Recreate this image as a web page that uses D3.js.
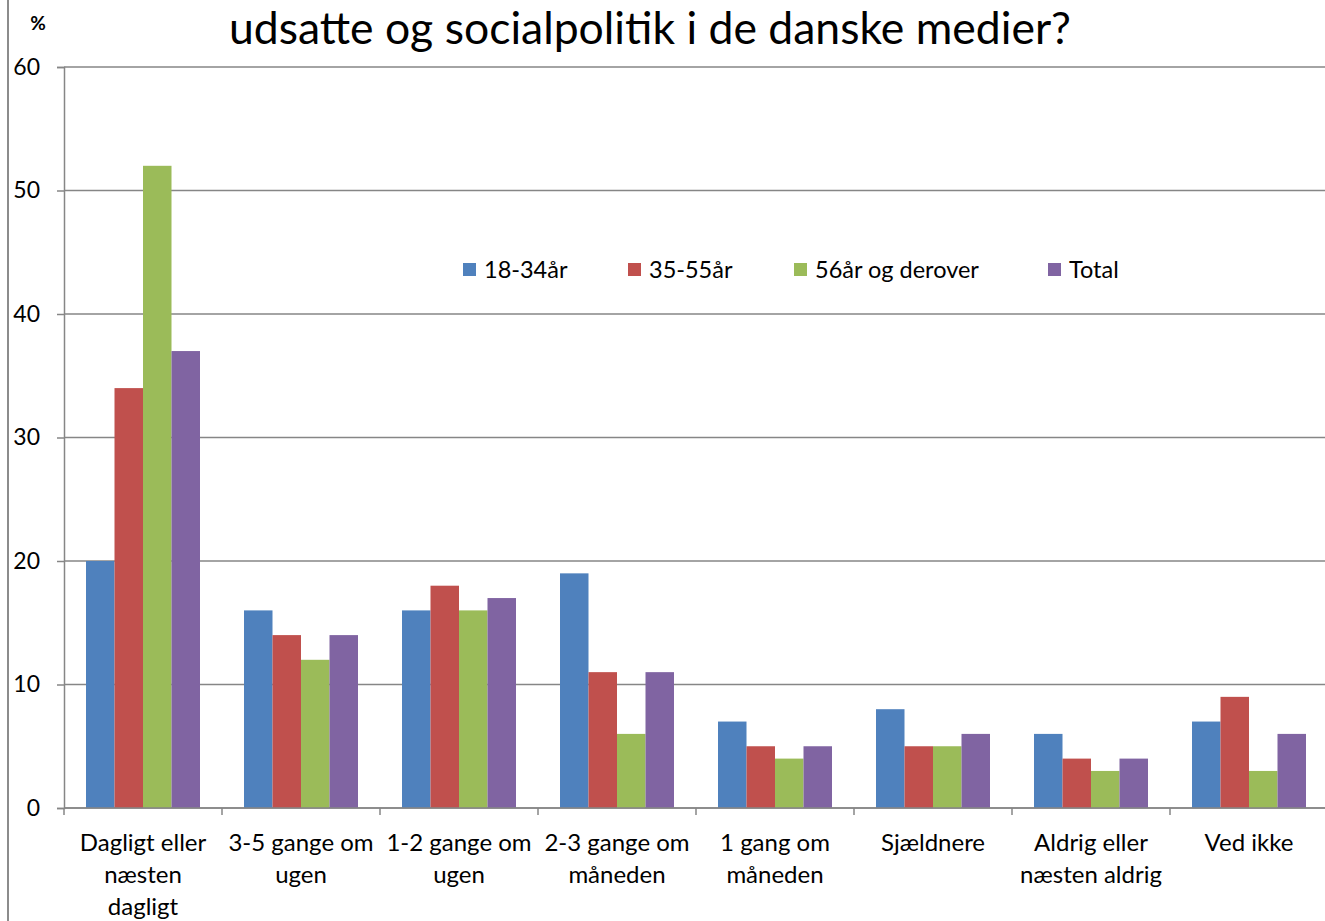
<!DOCTYPE html>
<html>
<head>
<meta charset="utf-8">
<script src="https://cdn.jsdelivr.net/npm/d3@7"></script>
<style>
  body { margin: 0; background: #fff; }
  text { font-family: Lato, "Open Sans", sans-serif; fill: #000; }
</style>
</head>
<body>
<div id="chart"></div>
<script>
var svgWidth = 1325;
var svgHeight = 921;

var margin = { top: 67, left: 64, bottom: 113 };

// categories and series
var categories = ["Dagligt eller næsten dagligt", "3-5 gange om ugen", "1-2 gange om ugen",
  "2-3 gange om måneden", "1 gang om måneden", "Sjældnere", "Aldrig eller næsten aldrig", "Ved ikke"];
var labelLines = [["Dagligt eller", "næsten", "dagligt"], ["3-5 gange om", "ugen"], ["1-2 gange om", "ugen"],
  ["2-3 gange om", "måneden"], ["1 gang om", "måneden"], ["Sjældnere"], ["Aldrig eller", "næsten aldrig"], ["Ved ikke"]];
var seriesNames = ["18-34år", "35-55år", "56år og derover", "Total"];
var age18_34 = [20, 16, 16, 19, 7, 8, 6, 7];
var age35_55 = [34, 14, 18, 11, 5, 5, 4, 9];
var age56 = [52, 12, 16, 6, 4, 5, 3, 3];
var total = [37, 14, 17, 11, 5, 6, 4, 6];
var yTicks = [0, 10, 20, 30, 40, 50, 60];
var colors = ["#4F81BD", "#C0504D", "#9BBB59", "#8064A2"];

var seriesValues = [age18_34, age35_55, age56, total];
var rows = categories.map(function(c, i) {
  return { cat: c, values: seriesValues.map(function(s, j) { return { name: seriesNames[j], value: s[i], idx: j }; }) };
});

var svg = d3.select("#chart").append("svg")
  .attr("width", svgWidth)
  .attr("height", svgHeight);

var bandW = 158;
var x0 = d3.scaleBand()
  .domain(categories)
  .range([margin.left, margin.left + bandW * categories.length]);

var x1 = d3.scaleBand()
  .domain(seriesNames)
  .range([22, bandW - 22]);

var y = d3.scaleLinear()
  .domain([0, 60])
  .range([svgHeight - margin.bottom, margin.top]);

// left border
svg.append("line")
  .attr("x1", 8).attr("x2", 8).attr("y1", 0).attr("y2", svgHeight)
  .attr("stroke", "#8c8c8c").attr("stroke-width", 2);

// gridlines
svg.append("g").selectAll("line")
  .data(yTicks)
  .enter().append("line")
  .attr("x1", margin.left).attr("x2", svgWidth)
  .attr("y1", d => y(d)).attr("y2", d => y(d))
  .attr("stroke", "#868686").attr("stroke-width", 1.5);

// bars
var groups = svg.append("g").selectAll("g")
  .data(rows)
  .enter().append("g")
  .attr("transform", d => `translate(${x0(d.cat)},0)`);

groups.selectAll("rect")
  .data(d => d.values)
  .enter().append("rect")
  .attr("x", d => x1(d.name))
  .attr("y", d => y(d.value))
  .attr("width", x1.bandwidth())
  .attr("height", d => y(0) - y(d.value))
  .attr("fill", d => colors[d.idx]);

// y axis
var yAxis = svg.append("g")
  .attr("transform", `translate(${margin.left},0)`)
  .call(d3.axisLeft(y).tickValues(yTicks).tickSize(7).tickPadding(17));
yAxis.selectAll("line").attr("stroke", "#868686").attr("stroke-width", 1.5);
yAxis.select(".domain").attr("stroke", "#868686").attr("stroke-width", 1.5);
yAxis.selectAll("text").style("font-size", "23px").attr("font-family", "Lato, sans-serif");

// x axis line and boundary ticks
svg.append("line")
  .attr("x1", margin.left).attr("x2", svgWidth)
  .attr("y1", y(0)).attr("y2", y(0))
  .attr("stroke", "#868686").attr("stroke-width", 1.5);

svg.append("g").selectAll("line")
  .data(categories)
  .enter().append("line")
  .attr("x1", d => x0(d)).attr("x2", d => x0(d))
  .attr("y1", y(0)).attr("y2", y(0) + 7)
  .attr("stroke", "#868686").attr("stroke-width", 1.5);

// category labels
var xLabels = svg.append("g").selectAll("text")
  .data(categories)
  .enter().append("text")
  .attr("text-anchor", "middle")
  .style("font-size", "24px")
  .attr("transform", d => `translate(${x0(d) + x0.bandwidth() / 2},${y(0) + 43})`);

xLabels.each(function(d, i) {
  var t = d3.select(this);
  labelLines[i].forEach(function(line, k) {
    t.append("tspan").attr("x", 0).attr("y", k * 32).text(line);
  });
});

// legend
var legendX = [463, 628, 794, 1048];
var legend = svg.append("g").selectAll("g")
  .data(seriesNames)
  .enter().append("g")
  .attr("transform", (d, i) => `translate(${legendX[i]},263)`);

legend.append("rect")
  .attr("width", 13).attr("height", 13)
  .attr("fill", (d, i) => colors[i]);

legend.append("text")
  .attr("x", 21).attr("y", 15)
  .style("font-size", "23.5px")
  .text(d => d);

// title and unit label
svg.append("text")
  .attr("x", 650).attr("y", 44)
  .attr("text-anchor", "middle")
  .style("font-size", "44.5px")
  .text("udsatte og socialpolitik i de danske medier?");

svg.append("text")
  .attr("x", 38).attr("y", 30)
  .attr("text-anchor", "middle")
  .style("font-size", "19px")
  .style("font-weight", "bold")
  .text("%");
</script>
</body>
</html>
